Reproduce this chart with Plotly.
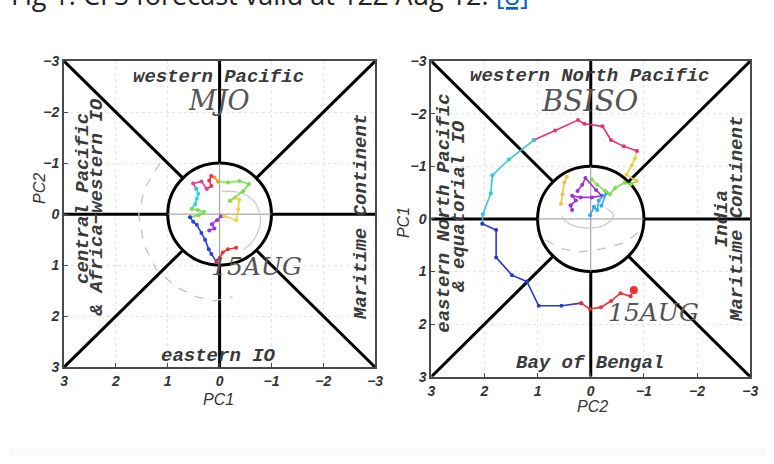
import plotly.graph_objects as go

W, H = 774, 464

# ---------------- data ----------------
TICKS = [-3, -2, -1, 0, 1, 2, 3]

# MJO panel: x = PC1, y = PC2  (trajectory segments, one colour each)
MJO_COLORS = ["#9b30e0", "#f0d040", "#78e040", "#f0a030", "#f03050", "#e040a0",
              "#30d0e0", "#78e040", "#2840e0", "#f03030"]
MJO_PC1 = [
    [0.20, 0.10, 0.15, 0.05, -0.03, -0.08],
    [-0.08, -0.32, -0.36, -0.38, -0.30, -0.20],
    [-0.20, -0.45, -0.57, -0.38, -0.16, 0.03],
    [0.03, 0.10, 0.16],
    [0.16, 0.20, 0.16, 0.25],
    [0.25, 0.35, 0.51, 0.45],
    [0.45, 0.41, 0.44, 0.47, 0.54],
    [0.54, 0.42, 0.30, 0.40, 0.57],
    [0.57, 0.51, 0.44, 0.35, 0.28, 0.21, 0.16, 0.06],
    [0.06, 0.00, -0.06, -0.16, -0.32],
]
MJO_PC2 = [
    [0.32, 0.28, 0.20, 0.12, 0.04, 0.03],
    [0.03, 0.12, -0.10, -0.28, -0.32, -0.26],
    [-0.26, -0.45, -0.59, -0.65, -0.62, -0.64],
    [-0.64, -0.72, -0.75],
    [-0.75, -0.66, -0.55, -0.50],
    [-0.50, -0.64, -0.60, -0.50],
    [-0.50, -0.40, -0.30, -0.20, -0.10],
    [-0.10, -0.08, -0.04, 0.02, 0.06],
    [0.06, 0.15, 0.21, 0.37, 0.50, 0.69, 0.78, 0.94],
    [0.94, 0.86, 0.75, 0.69, 0.66],
]
MJO_GRAY_DASH_PC1 = [1.15, 1.45, 1.56, 1.46, 1.23, 0.85, 0.45, 0.10, -0.25]
MJO_GRAY_DASH_PC2 = [-1.00, -0.50, 0.00, 0.60, 1.07, 1.42, 1.62, 1.70, 1.62]
MJO_GRAY_PC1 = [-0.03, -0.40, -0.66, -0.79, -0.66, -0.47]
MJO_GRAY_PC2 = [-0.45, -0.42, -0.26, 0.12, 0.50, 0.69]

# BSISO panel: x = PC2, y = PC1
BSISO_COLORS = ["#9b30e0", "#f0c040", "#30a8f0", "#78e040", "#e8d040",
                "#e83070", "#30c8d8", "#2838d0", "#f03030"]
BSISO_PC2 = [
    [0.35, 0.38, 0.28, 0.35, 0.19, -0.02, -0.21, -0.10, 0.10, 0.16, 0.25],
    [0.56, 0.53, 0.50, 0.45],
    [0.01, -0.06, -0.12, -0.15, -0.30, -0.20],
    [-0.02, -0.12, -0.27, -0.36, -0.46, -0.64, -0.75, -0.86],
    [-0.86, -0.67, -0.77, -0.83, -0.87],
    [-0.87, -0.62, -0.38, -0.22, 0.12, 0.24, 0.67, 1.07],
    [1.07, 1.54, 1.85, 1.88, 2.03, 2.04],
    [2.04, 1.78, 1.78, 1.48, 1.20, 0.98, 0.55, 0.18],
    [0.18, 0.02, -0.19, -0.38, -0.56, -0.75, -0.81],
]
BSISO_PC1 = [
    [-0.17, -0.26, -0.35, -0.44, -0.41, -0.41, -0.44, -0.55, -0.78, -0.65, -0.53],
    [-0.29, -0.47, -0.69, -0.80],
    [-0.07, -0.23, -0.17, -0.35, -0.50, -0.25],
    [-0.75, -0.65, -0.53, -0.47, -0.59, -0.69, -0.66, -0.72],
    [-0.72, -0.84, -1.02, -1.15, -1.29],
    [-1.29, -1.38, -1.50, -1.76, -1.81, -1.88, -1.68, -1.50],
    [-1.50, -1.13, -0.83, -0.49, -0.09, 0.09],
    [0.09, 0.21, 0.73, 1.07, 1.19, 1.65, 1.65, 1.60],
    [1.60, 1.71, 1.68, 1.56, 1.41, 1.47, 1.35],
]
BSISO_GRAY_DASH_PC2 = [0.85, 0.53, 0.22, -0.21, -0.64, -0.89]
BSISO_GRAY_DASH_PC1 = [0.40, 0.57, 0.63, 0.57, 0.45, 0.26]
BSISO_GRAY_PC2 = [0.55, 0.47, 0.28, -0.02, -0.27, -0.43, -0.30]
BSISO_GRAY_PC1 = [-0.05, 0.05, 0.14, 0.17, 0.11, -0.07, -0.20]

# ---------------- figure ----------------
fig = go.Figure()

def add_panel(xs_list, ys_list, colors, gdx, gdy, gsx, gsy, xa, ya):
    fig.add_trace(go.Scatter(x=gdx, y=gdy, mode="lines", xaxis=xa, yaxis=ya,
                             line=dict(color="#c0c0c0", width=1.3, dash="dash"),
                             showlegend=False, hoverinfo="skip"))
    fig.add_trace(go.Scatter(x=gsx, y=gsy, mode="lines", xaxis=xa, yaxis=ya,
                             line=dict(color="#c8c8c8", width=1.2, shape="spline"),
                             showlegend=False, hoverinfo="skip"))
    for xs, ys, c in zip(xs_list, ys_list, colors):
        fig.add_trace(go.Scatter(x=xs, y=ys, mode="lines+markers", xaxis=xa, yaxis=ya,
                                 line=dict(color=c, width=1.6),
                                 marker=dict(color=c, size=4),
                                 showlegend=False))

add_panel(MJO_PC1, MJO_PC2, MJO_COLORS, MJO_GRAY_DASH_PC1, MJO_GRAY_DASH_PC2,
          MJO_GRAY_PC1, MJO_GRAY_PC2, "x", "y")
add_panel(BSISO_PC2, BSISO_PC1, BSISO_COLORS, BSISO_GRAY_DASH_PC2, BSISO_GRAY_DASH_PC1,
          BSISO_GRAY_PC2, BSISO_GRAY_PC1, "x2", "y2")
fig.add_trace(go.Scatter(x=[BSISO_PC2[-1][-1]], y=[BSISO_PC1[-1][-1]], mode="markers",
                         xaxis="x2", yaxis="y2", marker=dict(color="#f03030", size=8),
                         showlegend=False))

# phase-diagram template shapes
B, R, D = 3, 1, 0.7071
shapes = []
for xr, yr in [("x", "y"), ("x2", "y2")]:
    line = dict(color="black", width=3)
    shapes.append(dict(type="circle", xref=xr, yref=yr, x0=-R, x1=R, y0=-R, y1=R,
                       line=line, layer="between"))
    for sx in (-1, 1):
        for sy in (-1, 1):
            shapes.append(dict(type="line", xref=xr, yref=yr, x0=sx * B, y0=sy * B,
                               x1=sx * D, y1=sy * D, line=line, layer="between"))
    for s in (-1, 1):
        shapes.append(dict(type="line", xref=xr, yref=yr, x0=s * B, y0=0, x1=s * R, y1=0,
                           line=line, layer="between"))
        shapes.append(dict(type="line", xref=xr, yref=yr, x0=0, y0=s * B, x1=0, y1=s * R,
                           line=line, layer="between"))
    thin = dict(color="#9a9a9a", width=1)
    shapes.append(dict(type="line", xref=xr, yref=yr, x0=-R, y0=0, x1=R, y1=0,
                       line=thin, layer="between"))
    shapes.append(dict(type="line", xref=xr, yref=yr, x0=0, y0=-R, x1=0, y1=R,
                       line=thin, layer="between"))
shapes.append(dict(type="rect", xref="paper", yref="paper", x0=5 / W, x1=1,
                   y0=0, y1=8 / H, fillcolor="#f9f9f9", line=dict(width=0), layer="below"))

def px(xp):
    return xp / W

def py(yp):
    return 1 - yp / H

axis_common = dict(range=[3, -3], tickvals=TICKS, showline=True, mirror=True,
                   linecolor="#4a4a4a", linewidth=2, ticks="inside", ticklen=4,
                   tickcolor="#4a4a4a", zeroline=False, showgrid=True,
                   gridcolor="#e4e4e4", griddash="dot", gridwidth=1,
                   tickfont=dict(family="Liberation Sans", size=14, color="#333333",
                                 style="italic", weight="bold"),
                   fixedrange=True)

fig.update_layout(
    width=W, height=H, margin=dict(l=0, r=0, t=0, b=0),
    paper_bgcolor="white", plot_bgcolor="white",
    xaxis=dict(domain=[px(61), px(377)], anchor="y", **axis_common),
    yaxis=dict(domain=[py(372), py(55)], anchor="x", **axis_common),
    xaxis2=dict(domain=[px(434), px(758)], anchor="y2", **axis_common),
    yaxis2=dict(domain=[py(382), py(55)], anchor="x2", **axis_common),
    shapes=shapes,
)

serif = dict(family="Liberation Mono", size=19, color="#3a3a3a", style="italic",
             weight="bold")
big = dict(family="DejaVu Serif", size=27, color="#555555", style="italic")
sans = dict(family="Liberation Sans", size=16, color="#333333", style="italic")

ann = []
def A(text, x, y, font, angle=0, xanchor="center", yanchor="middle"):
    ann.append(dict(text=text, x=px(x), y=py(y), xref="paper", yref="paper",
                    showarrow=False, font=font, textangle=angle,
                    xanchor=xanchor, yanchor=yanchor))

# left panel labels
A("western Pacific", 218, 71, serif)
A("MJO", 218, 96, big)
A("eastern IO", 218, 360, serif)
A("central Pacific", 80, 197, serif, -90)
A("&amp; Africa\u2212western IO", 94, 207, serif, -90)
A("Maritime Continent", 362, 216, serif, -90)
A("15AUG", 256, 268, dict(big, size=25))
# right panel labels
A("western North Pacific", 595, 70, serif)
A("BSISO", 595, 96, dict(big, size=29))
A("Bay of Bengal", 595, 368, serif)
A("eastern North Pacific", 447, 213, serif, -90)
A("&amp; equatorial IO", 462, 205, serif, -90)
A("India", 730, 218, serif, -90)
A("Maritime Continent", 745, 218, serif, -90)
A("15AUG", 660, 315, dict(big, size=25))
# axis titles
A("PC2", 36, 187, sans, -90)
A("PC1", 218, 405, sans)
A("PC1", 406, 222, sans, -90)
A("PC2", 598, 413, sans)
# caption (cut off at the top of the page)
A("Fig 1: CFS forecast valid at 12Z Aug 12. <span style='color:#0563c1'><u>[8]</u></span>",
  5, -14, dict(family="Open Sans", size=27, color="#222222"), xanchor="left")

fig.update_layout(annotations=ann)
fig.write_html("out.html", config={"displayModeBar": False},
               post_script="document.body.style.margin='0';")
